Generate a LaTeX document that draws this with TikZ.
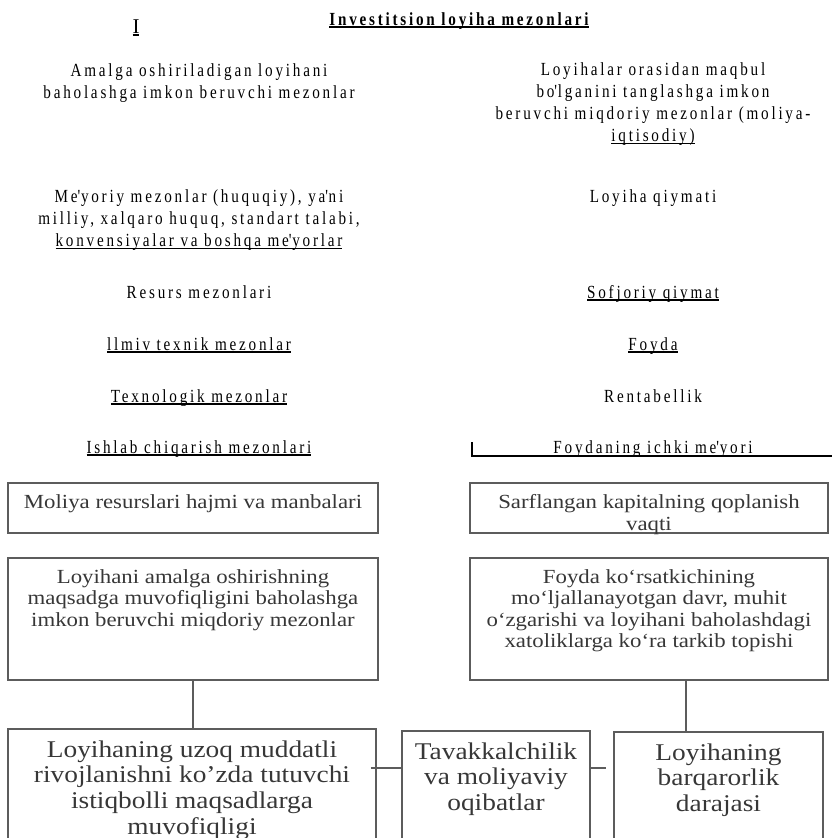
\documentclass[tikz,border=0pt]{standalone}
\usepackage{fontspec}
\setmainfont{Liberation Serif}
\newfontfamily\topfont{Liberation Serif}[LetterSpace=15,FakeStretch=0.82]
\newfontfamily\boxfont{Liberation Serif}[FakeStretch=1.14]
\usetikzlibrary{calc}
\definecolor{scanline}{RGB}{92,92,92}
\definecolor{scantext}{RGB}{55,55,55}
\newcommand{\undl}[1]{\leavevmode\setbox0\hbox{#1}\rlap{\raisebox{-2.5pt}{\rule{\wd0}{1.2pt}}}\box0}
\newcommand{\crittext}[3]{\parbox[c][#2][t]{#1}{\centering\vspace*{11.5pt}#3}}
\newcommand{\ap}{\textquotesingle}

\begin{document}
\begin{tikzpicture}[x=1pt, y=-1pt,
  crit/.style={draw=scanline, line width=1.8pt, inner sep=0pt, text=scantext,
    font=\boxfont\fontsize{20}{21.5}\selectfont},
  low/.style={crit, font=\boxfont\fontsize{24}{25.7}\selectfont},
  head/.style={font=\topfont\fontsize{18.5}{22}\selectfont, align=center, inner sep=0pt},
  item/.style={head, anchor=base},
  link/.style={draw=scanline, line width=1.8pt}]
  \useasboundingbox (0,0) rectangle (832,838);

  % heading
  \node[anchor=base, inner sep=0pt, font=\fontsize{21}{24}\selectfont] (num) at (136,33) {\undl{I}};
  \node[item, font=\topfont\bfseries\fontsize{18.5}{20}\selectfont] (title) at (459,25) {\undl{Investitsion loyiha mezonlari}};

  % left column
  \node[head] (leftHead) at (199,83) {Amalga oshiriladigan loyihani\\baholashga imkon beruvchi mezonlar};
  \node[head] (norm) at (199,220) {Me\ap yoriy mezonlar (huquqiy), ya\ap ni\\milliy, xalqaro huquq, standart talabi,\\\undl{konvensiyalar va boshqa me\ap yorlar}};
  \node[item] (resurs) at (199,298) {Resurs mezonlari};
  \node[item] (ilmiy) at (199,350) {\undl{llmiv texnik mezonlar}};
  \node[item] (texno) at (199,402) {\undl{Texnologik mezonlar}};
  \node[item] (ishlab) at (199,453) {\undl{Ishlab chiqarish mezonlari}};

  % right column
  \node[head] (rightHead) at (653,104.5) {Loyihalar orasidan maqbul\\bo\ap lganini tanglashga imkon\\beruvchi miqdoriy mezonlar (moliya-\\\undl{iqtisodiy)}};
  \node[item] (qiymat) at (653,202) {Loyiha qiymati};
  \node[item] (sofqiy) at (653,298) {\undl{Sofjoriy qiymat}};
  \node[item] (foyda) at (653,350) {\undl{Foyda}};
  \node[item] (rentab) at (653,402) {Rentabellik};
  \node[item] (ichki) at (653,453) {Foydaning ichki me\ap yori};
  \coordinate (tick) at (472,442);
  \draw[line width=1.2pt] (tick) -- (472,456) -- (832,456);

  % boxes
  \node[crit] (critA) at (193,508) {\crittext{370pt}{50pt}{Moliya resurslari hajmi va manbalari}};
  \node[crit] (critB) at (649,508) {\crittext{358pt}{50pt}{Sarflangan kapitalning qoplanish\\vaqti}};
  \node[crit] (critC) at (193,619) {\crittext{370pt}{122pt}{Loyihani amalga oshirishning\\maqsadga muvofiqligini baholashga\\imkon beruvchi miqdoriy mezonlar}};
  \node[crit] (critD) at (649,619) {\crittext{358pt}{122pt}{Foyda ko‘rsatkichining\\mo‘ljallanayotgan davr, muhit\\o‘zgarishi va loyihani baholashdagi\\xatoliklarga ko‘ra tarkib topishi}};

  \node[low] (lowA) at (192,787.5) {\crittext{368pt}{117pt}{Loyihaning uzoq muddatli\\rivojlanishni ko’zda tutuvchi\\istiqbolli maqsadlarga\\muvofiqligi}};
  \node[low] (lowB) at (496,788.5) {\crittext{188pt}{115pt}{Tavakkalchilik\\va moliyaviy\\oqibatlar}};
  \node[low] (lowC) at (718.5,789) {\crittext{209pt}{114pt}{Loyihaning\\barqarorlik\\darajasi}};

  % connectors
  \draw[link] (critC.south) -- (critC.south |- lowA.north);
  \coordinate (joinR) at ($(lowC.north west)+(73,0)$);
  \draw[link] (joinR |- critD.south) -- (joinR);
  \coordinate (rowY) at (0,768);
  \draw[link] ($(lowA.east |- rowY)+(-6,0)$) -- (lowB.west |- rowY);
  \draw[link] (lowB.east |- rowY) -- ++(15,0);
\end{tikzpicture}
\end{document}
